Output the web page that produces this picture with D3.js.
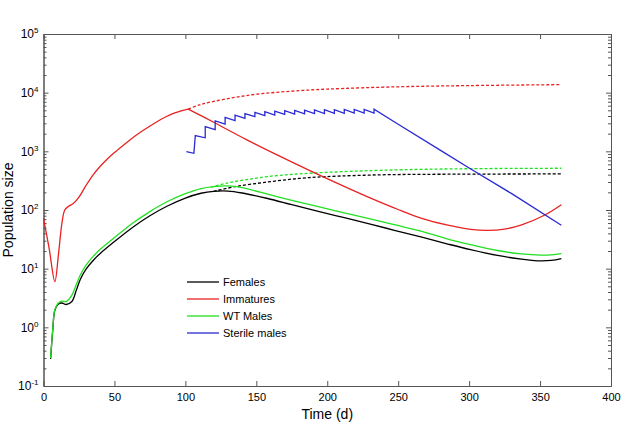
<!DOCTYPE html>
<html>
<head>
<meta charset="utf-8">
<script src="https://cdn.jsdelivr.net/npm/d3@7"></script>
<style>
  body { margin: 0; background: #fff; }
  text { font-family: "Liberation Sans", Arial, sans-serif; }
</style>
</head>
<body>
<div id="chart"></div>
<script>
// series as [time (d), population]
const femalesSolid = [[5,0.29],[6.5,0.88],[8,1.95],[10.5,2.5],[13,2.6],[16,2.45],[20,2.75],[23,4.2],[26,6.6],[30,9.8],[35,13.8],[40,18.2],[50,29],[63,51],[75,80],[87,116],[100,160],[111,193],[120,208],[130,210],[140,195],[158,157],[175,123],[193,95.5],[212,74],[231,57],[248,44.7],[266,34.7],[285,26.3],[301,21.1],[320,16.8],[337,14.5],[348,13.6],[358,13.8],[365,14.8]];
const femalesDashed = [[120,208],[135,250],[158,300],[180,345],[199,370],[238,398],[280,407],[365,412]];

const immaturesRise = [[0,72],[4,22],[8,6],[10.5,17],[13,60],[15,100],[17.5,115],[21,129],[25,166],[30,263],[35,398],[40,556],[45,741],[50,955],[56,1259],[62,1641],[68,2089],[74,2600],[80,3200],[86,3846],[92,4467],[97,4898],[102,5250]];
const immaturesSolid = [[102,5250],[120,3126],[143,1585],[165,861],[190,442],[215,234],[231,158],[250,102],[266,73],[285,55],[301,46.8],[313,44.9],[325,47.3],[337,55.6],[353,81.3],[365,123]];
const immaturesDashed = [[102,5250],[110,6200],[120,7100],[135,8300],[150,9400],[175,10600],[200,11500],[250,12600],[300,13200],[365,13700]];

const wtMalesSolid = [[5,0.3],[6.5,0.9],[8,2.0],[10.5,2.6],[13,2.8],[16,2.75],[20,3.55],[23,5.25],[26,7.9],[30,11.5],[35,16.2],[40,21.4],[50,33.9],[63,60],[75,94],[87,138],[100,190],[111,232],[120,251],[130,257],[140,240],[158,186],[175,146],[193,115],[212,89],[231,70],[248,55.6],[266,43.7],[285,32],[301,25.7],[320,20.4],[337,17.8],[350,17],[360,17.4],[365,18]];
const wtMalesDashed = [[118,245],[130,290],[145,335],[158,372],[175,405],[193,430],[215,455],[238,475],[270,495],[310,508],[365,515]];

const sterileMales = [[100.7,985],[106,925],[107,1850],[114,1700],[114,2630],[121,2350],[121,3290],[128,2900],[128,3800],[135,3350],[135,4150],[142,3650],[142,4400],[149,3900],[149,4600],[156,4050],[156,4750],[163,4150],[163,4850],[170,4250],[170,4950],[177,4300],[177,5000],[184,4350],[184,5050],[191,4400],[191,5100],[198,4400],[198,5150],[205,4450],[205,5150],[212,4450],[212,5200],[219,4500],[219,5200],[226,4500],[226,5200],[233,4500],[233,5250],[250,2900],[281,1000],[300,520],[330,190],[365,55]];

const xTicks = [0, 50, 100, 150, 200, 250, 300, 350, 400];
const yDecades = [-1, 0, 1, 2, 3, 4, 5];
const legendLabels = ['Females', 'Immatures', 'WT Males', 'Sterile males'];
const legendColors = ['#000000', '#e82222', '#22e022', '#2a2ad2'];

const width = 621, height = 426;
const margin = { top: 34, right: 10, bottom: 40, left: 43.5 };
const w = width - margin.left - margin.right;
const h = height - margin.top - margin.bottom;

const svg = d3.select('#chart').append('svg')
  .attr('width', width)
  .attr('height', height);

const g = svg.append('g')
  .attr('transform', `translate(${margin.left},${margin.top})`);

const x = d3.scaleLinear().domain([0, 400]).range([0, w]);
const y = d3.scaleLog().domain([0.1, 1e5]).range([h, 0]);

const minors = [];
yDecades.slice(0, -1).forEach(e => {
  for (let k = 2; k <= 9; k++) minors.push(k * Math.pow(10, e));
});
const majors = yDecades.map(e => Math.pow(10, e));

const axisColor = '#555';

function styleAxis(sel) {
  sel.selectAll('path, line').attr('stroke', axisColor);
  sel.selectAll('text').attr('fill', '#000').style('font-size', '11px');
}

// bottom / top
g.append('g')
  .attr('transform', `translate(0,${h})`)
  .call(d3.axisBottom(x).tickValues(xTicks).tickSizeInner(-5).tickSizeOuter(0).tickPadding(7))
  .call(styleAxis);
g.append('g')
  .call(d3.axisTop(x).tickValues(xTicks).tickSizeInner(-5).tickSizeOuter(0).tickFormat(''))
  .call(styleAxis);

// left / right, majors and minors
g.append('g')
  .call(d3.axisLeft(y).tickValues(majors).tickSizeInner(-5).tickSizeOuter(0).tickFormat(''))
  .call(styleAxis);
g.append('g')
  .call(d3.axisLeft(y).tickValues(minors).tickSizeInner(-3).tickSizeOuter(0).tickFormat(''))
  .call(styleAxis);
g.append('g')
  .attr('transform', `translate(${w},0)`)
  .call(d3.axisRight(y).tickValues(majors).tickSizeInner(-5).tickSizeOuter(0).tickFormat(''))
  .call(styleAxis);
g.append('g')
  .attr('transform', `translate(${w},0)`)
  .call(d3.axisRight(y).tickValues(minors).tickSizeInner(-3).tickSizeOuter(0).tickFormat(''))
  .call(styleAxis);

// y labels with superscripts
const yl = g.append('g').selectAll('text')
  .data(yDecades)
  .enter().append('text')
  .attr('x', -5)
  .attr('y', d => y(Math.pow(10, d)))
  .attr('dy', '0.35em')
  .attr('text-anchor', 'end')
  .style('font-size', '12px');
yl.append('tspan').text('10');
yl.append('tspan').attr('dy', '-0.6em').style('font-size', '8px').text(d => d);

// axis titles
g.append('text')
  .attr('x', w / 2)
  .attr('y', h + 33)
  .attr('text-anchor', 'middle')
  .style('font-size', '14px')
  .text('Time (d)');
g.append('text')
  .attr('transform', `translate(${-31},${h / 2}) rotate(-90)`)
  .attr('text-anchor', 'middle')
  .style('font-size', '14px')
  .text('Population size');

const smooth = d3.line()
  .x(d => x(d[0]))
  .y(d => y(d[1]))
  .curve(d3.curveCatmullRom.alpha(0.5));
const straight = d3.line()
  .x(d => x(d[0]))
  .y(d => y(d[1]));

const series = [
  { data: femalesDashed, color: legendColors[0], dash: '3,2', line: smooth },
  { data: wtMalesDashed, color: legendColors[2], dash: '3,2', line: smooth },
  { data: immaturesDashed, color: legendColors[1], dash: '3,2', line: smooth },
  { data: femalesSolid, color: legendColors[0], dash: null, line: smooth },
  { data: wtMalesSolid, color: legendColors[2], dash: null, line: smooth },
  { data: immaturesRise, color: legendColors[1], dash: null, line: smooth },
  { data: immaturesSolid, color: legendColors[1], dash: null, line: smooth },
  { data: sterileMales, color: legendColors[3], dash: null, line: straight }
];

g.selectAll('.series')
  .data(series)
  .enter().append('path')
  .attr('class', 'series')
  .attr('d', d => d.line(d.data))
  .attr('fill', 'none')
  .attr('stroke', d => d.color)
  .attr('stroke-width', 1.3)
  .attr('stroke-dasharray', d => d.dash);

// legend
const legend = svg.append('g').attr('transform', 'translate(187,282)');
const items = legend.selectAll('g')
  .data(legendLabels)
  .enter().append('g')
  .attr('transform', (d, i) => `translate(0,${i * 17})`);
items.append('line')
  .attr('x1', 0).attr('x2', 32)
  .attr('stroke', (d, i) => legendColors[i])
  .attr('stroke-width', 1.3);
items.append('text')
  .attr('x', 36)
  .attr('dy', '0.35em')
  .style('font-size', '11px')
  .text(d => d);
</script>
</body>
</html>
